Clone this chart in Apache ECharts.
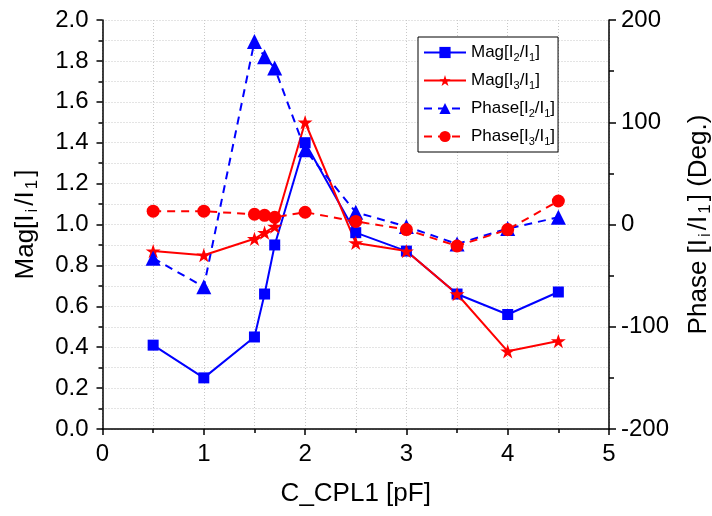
<!DOCTYPE html>
<html><head><meta charset="utf-8">
<script src="https://cdn.jsdelivr.net/npm/echarts@6/dist/echarts.min.js"></script>
<style>html,body{margin:0;padding:0;background:#fff}#c{width:712px;height:516px}</style>
</head><body><div id="c"></div>
<script>
const xValues = [0.5, 1, 1.5, 1.6, 1.7, 2, 2.5, 3, 3.5, 4, 4.5];
const magI2 = [0.41, 0.25, 0.45, 0.66, 0.90, 1.40, 0.96, 0.87, 0.66, 0.56, 0.67];
const magI3 = [0.87, 0.85, 0.93, 0.96, 0.99, 1.50, 0.91, 0.87, 0.66, 0.38, 0.43];
const phaseI2 = [-33, -61, 179, 164, 153, 73, 12, -2, -19, -4, 7];
const phaseI3 = [13, 13, 10, 9, 7, 12, 3, -5, -21, -5, 23];
const seriesNames = ['Mag[I2/I1]', 'Mag[I3/I1]', 'Phase[I2/I1]', 'Phase[I3/I1]'];
const legendRich = {
  'Mag[I2/I1]': 'Mag[I{s|2}/I{s|1}]',
  'Mag[I3/I1]': 'Mag[I{s|3}/I{s|1}]',
  'Phase[I2/I1]': 'Phase[I{s|2}/I{s|1}]',
  'Phase[I3/I1]': 'Phase[I{s|3}/I{s|1}]'
};
const xName = 'C_CPL1 [pF]';
const leftName = 'Mag[I{s|i}/I{s|1}]';
const rightName = 'Phase [I{s|i}/I{s|1}] (Deg.)';

const FONT = "'Liberation Sans', Arial, sans-serif";
const BLUE = '#0000ff', RED = '#ff0000';
const STAR = 'path://M50,0 L61.2,34.5 L97.6,34.5 L68.2,55.9 L79.4,90.5 L50,69.1 L20.6,90.5 L31.8,55.9 L2.4,34.5 L38.8,34.5 Z';
const pair = (ys) => xValues.map((x, i) => [x, ys[i]]);
const grid = {color: '#c8c8c8', type: [1, 2], width: 1};
const subStyle = {fontFamily: FONT, fontSize: 17, verticalAlign: 'bottom', lineHeight: 17, color: '#000', padding: [0, 3, 0, 2]};

const chart = echarts.init(document.getElementById('c'), null, {renderer: 'canvas'});
chart.setOption({
  backgroundColor: '#fff',
  animation: false,
  grid: {left: 102.5, right: 103, top: 20, bottom: 87, containLabel: false, outerBoundsMode: 'none'},
  legend: {
    orient: 'vertical', left: 418, top: 37,
    data: seriesNames,
    backgroundColor: '#fff', borderColor: '#000', borderWidth: 1,
    padding: [5, 3, 5, 5], itemGap: 7, itemWidth: 42, itemHeight: 14,
    formatter: (n) => legendRich[n],
    textStyle: {fontFamily: FONT, fontSize: 17, color: '#000', lineHeight: 21,
      rich: {s: {fontFamily: FONT, fontSize: 11, verticalAlign: 'bottom', lineHeight: 13, color: '#000'}}}
  },
  xAxis: {
    type: 'value', min: 0, max: 5, interval: 1,
    name: xName, nameLocation: 'middle', nameGap: 52,
    nameTextStyle: {fontFamily: FONT, fontSize: 26, color: '#000'},
    axisLine: {show: true, onZero: false, lineStyle: {color: '#000', width: 1.5}},
    axisTick: {show: true, inside: false, length: 6, lineStyle: {color: '#000', width: 1.5}},
    minorTick: {show: true, splitNumber: 2, length: 4, lineStyle: {color: '#000', width: 1.5}},
    axisLabel: {fontFamily: FONT, fontSize: 24, color: '#000', margin: 13},
    splitLine: {show: true, lineStyle: grid},
    minorSplitLine: {show: true, lineStyle: grid}
  },
  yAxis: [{
    type: 'value', min: 0, max: 2, interval: 0.2, position: 'left',
    name: leftName, nameLocation: 'middle', nameRotate: 90, nameGap: 62,
    nameTextStyle: {fontFamily: FONT, fontSize: 26, color: '#000', lineHeight: 30, rich: {s: subStyle}},
    axisLine: {show: true, onZero: false, lineStyle: {color: '#000', width: 1.5}},
    axisTick: {show: true, inside: false, length: 6, lineStyle: {color: '#000', width: 1.5}},
    minorTick: {show: true, splitNumber: 2, length: 4, lineStyle: {color: '#000', width: 1.5}},
    axisLabel: {fontFamily: FONT, fontSize: 24, color: '#000', margin: 14, formatter: (v) => v.toFixed(1)},
    splitLine: {show: true, lineStyle: grid},
    minorSplitLine: {show: true, lineStyle: grid}
  }, {
    type: 'value', min: -200, max: 200, interval: 100, position: 'right',
    name: rightName, nameLocation: 'middle', nameRotate: 90, nameGap: 75,
    nameTextStyle: {fontFamily: FONT, fontSize: 26, color: '#000', lineHeight: 30, rich: {s: subStyle}},
    axisLine: {show: true, onZero: false, lineStyle: {color: '#000', width: 1.5}},
    axisTick: {show: true, inside: false, length: 7, lineStyle: {color: '#000', width: 1.5}},
    minorTick: {show: true, splitNumber: 2, length: 5, lineStyle: {color: '#000', width: 1.5}},
    axisLabel: {fontFamily: FONT, fontSize: 24, color: '#000', margin: 12},
    splitLine: {show: false}
  }],
  series: [
    {name: seriesNames[0], type: 'line', yAxisIndex: 0, data: pair(magI2),
     symbol: 'rect', symbolSize: 11, color: BLUE,
     lineStyle: {color: BLUE, width: 2}, itemStyle: {color: BLUE}},
    {name: seriesNames[1], type: 'line', yAxisIndex: 0, data: pair(magI3),
     symbol: STAR, symbolSize: 15, symbolKeepAspect: true, color: RED,
     lineStyle: {color: RED, width: 2}, itemStyle: {color: RED}},
    {name: seriesNames[2], type: 'line', yAxisIndex: 1, data: pair(phaseI2),
     symbol: 'triangle', symbolSize: 15, color: BLUE,
     lineStyle: {color: BLUE, width: 2, type: [8, 6]}, itemStyle: {color: BLUE}},
    {name: seriesNames[3], type: 'line', yAxisIndex: 1, data: pair(phaseI3),
     symbol: 'circle', symbolSize: 13, color: RED,
     lineStyle: {color: RED, width: 2, type: [8, 6]}, itemStyle: {color: RED}}
  ]
});
</script>
</body></html>
